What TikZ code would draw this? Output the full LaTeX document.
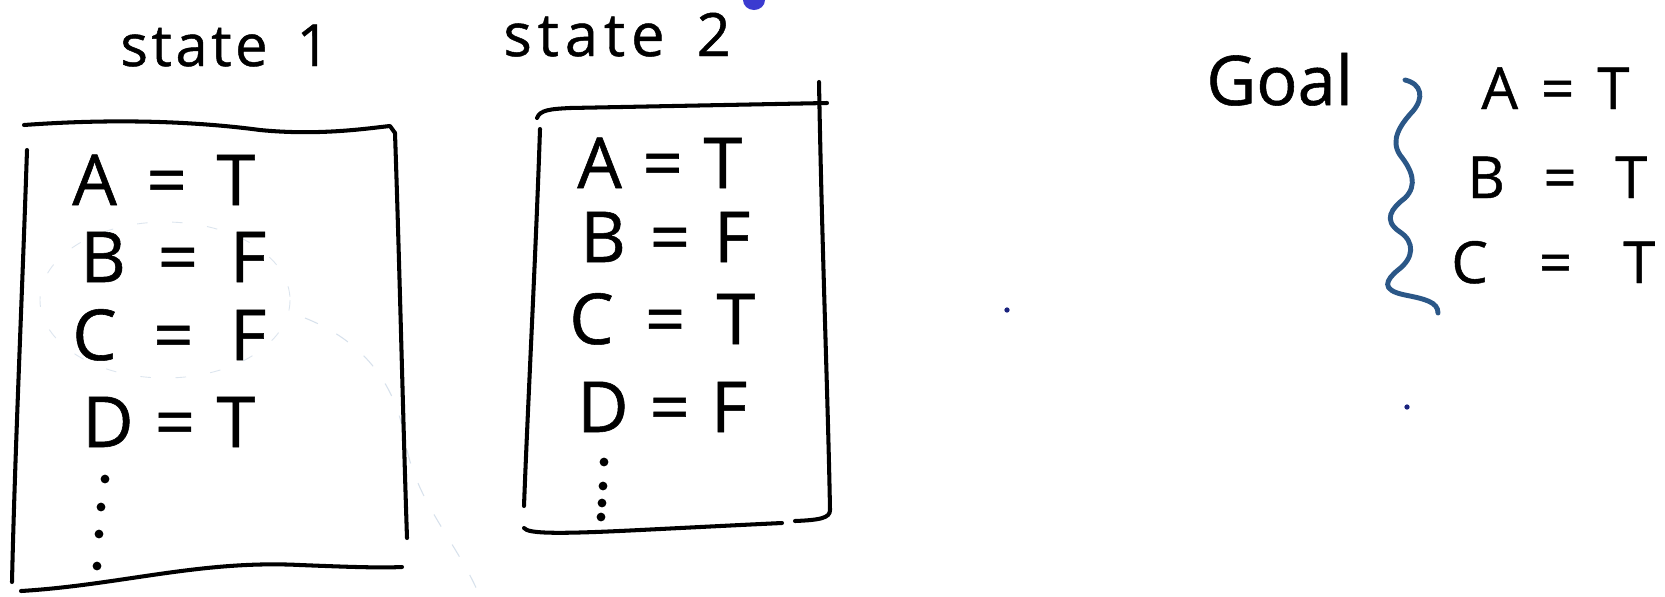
\documentclass[tikz,border=0pt]{standalone}
\usepackage{fontspec}
\setmainfont{Open Sans}[FakeBold=0.8]
\newfontfamily\titlefont{Open Sans}[FakeBold=0.8, LetterSpace=6]
\newfontfamily\titlefontwide{Open Sans}[FakeBold=0.8, LetterSpace=10]
\definecolor{bracecol}{HTML}{2B5787}
\definecolor{blobcol}{HTML}{3B3BD0}
\definecolor{dotcol}{HTML}{1A237E}
\definecolor{ghost}{HTML}{9DB6D0}
\newcommand{\rowtext}[2]{\makebox[#1][s]{#2}}
\begin{document}
\begin{tikzpicture}[x=0.02cm,y=-0.02cm,
  boxline/.style={line width=2.3pt, line cap=round, line join=round},
  bigrow/.style={anchor=base west, inner sep=0pt, font=\fontsize{40}{48}\selectfont},
  goalrow/.style={anchor=base west, inner sep=0pt, font=\fontsize{33}{40}\selectfont},
  title/.style={anchor=base west, inner sep=0pt, font=\titlefont\fontsize{33}{40}\selectfont},
  titlewide/.style={anchor=base west, inner sep=0pt, font=\titlefontwide\fontsize{34}{40}\selectfont},
  vdot/.style={circle, fill=black, inner sep=0pt, minimum size=5pt},
  specks/.style={circle, fill=dotcol, inner sep=0pt, minimum size=3pt}]
\useasboundingbox (0,0) rectangle (1665,596);
\fill[white] (0,0) rectangle (1665,596);

% ghost marks
\draw[ghost, opacity=0.35, line width=0.5pt, dash pattern=on 6pt off 14pt] (165,300) ellipse [x radius=125, y radius=78];
\draw[ghost, opacity=0.4, line width=0.6pt, dash pattern=on 8pt off 12pt] (305,318) .. controls (360,340) and (395,380) .. (405,440) .. controls (415,500) and (455,540) .. (478,592);

% titles
\node[title] (s1) at (120,66) {state\hspace{0.5em}1};
\node[titlewide] (s2) at (503,56) {\rowtext{4.55cm}{state\hfill 2}};
\fill[blobcol] (754,0) ellipse [x radius=11, y radius=10];

% box 1
\coordinate (b1tl) at (24,125);
\coordinate (b1tr) at (395,133);
\coordinate (b1bl) at (21,591);
\coordinate (b1br) at (402,567);
\draw[boxline] (b1tl) .. controls (120,118) and (200,122) .. (260,130) .. controls (320,136) and (370,128) .. (390,126) -- (b1tr);
\draw[boxline] (27,150) .. controls (22,300) and (15,450) .. (12,582);
\draw[boxline] (b1tr) .. controls (400,280) and (403,420) .. (407,538);
\draw[boxline] (b1bl) .. controls (120,585) and (200,560) .. (300,565) .. controls (350,567) and (380,568) .. (b1br);

\node[bigrow] (a1) at (72,205) {\rowtext{3.66cm}{A\hfill=\hfill T}};
\node[bigrow] (bb1) at (80,282) {\rowtext{3.72cm}{B\hfill=\hfill F}};
\node[bigrow] (c1) at (72,360) {\rowtext{3.88cm}{C\hfill=\hfill F}};
\node[bigrow] (d1) at (82,447) {\rowtext{3.46cm}{D\hfill=\hfill T}};
\node[vdot] (p11) at (105,479) {};
\node[vdot] (p12) at (101,507) {};
\node[vdot] (p13) at (99,534) {};
\node[vdot] (p14) at (97,566) {};

% box 2
\coordinate (b2tl) at (537,118);
\coordinate (b2tr) at (827,103);
\draw[boxline] (b2tl) .. controls (540,110) and (550,109) .. (570,108) -- (b2tr);
\draw[boxline] (540,129) .. controls (536,250) and (528,400) .. (524,506);
\draw[boxline] (819,82) .. controls (822,250) and (828,400) .. (830,510) .. controls (830,518) and (820,520) .. (795,521);
\draw[boxline] (524,528) .. controls (528,534) and (560,534) .. (640,530) .. controls (700,527) and (760,524) .. (782,523);

\node[bigrow] (a2) at (577,188) {\rowtext{3.3cm}{A\hfill=\hfill T}};
\node[bigrow] (bb2) at (580,262) {\rowtext{3.4cm}{B\hfill=\hfill F}};
\node[bigrow] (c2) at (569,344) {\rowtext{3.72cm}{C\hfill=\hfill T}};
\node[bigrow] (d2) at (577,432) {\rowtext{3.4cm}{D\hfill=\hfill F}};
\node[vdot] (p21) at (604,462) {};
\node[vdot] (p22) at (603,486) {};
\node[vdot] (p23) at (602,503) {};
\node[vdot] (p24) at (601,517) {};

% goal
\node[anchor=base west, inner sep=0pt, font=\fontsize{39}{46}\selectfont] (goal) at (1206,105) {Goal};
\draw[bracecol, line width=2.8pt, line cap=round] (1405,80) .. controls (1422,84) and (1424,98) .. (1413,111)
  .. controls (1400,125) and (1390,140) .. (1400,155) .. controls (1412,170) and (1418,185) .. (1405,198)
  .. controls (1392,208) and (1382,220) .. (1400,232) .. controls (1415,242) and (1414,258) .. (1398,270)
  .. controls (1386,280) and (1380,290) .. (1405,295) .. controls (1425,299) and (1438,302) .. (1438,313);
\node[goalrow] (ga) at (1481,109) {\rowtext{2.96cm}{A\hfill=\hfill T}};
\node[goalrow] (gb) at (1467,198) {\rowtext{3.6cm}{B\hfill=\hfill T}};
\node[goalrow] (gc) at (1451,283) {\rowtext{4.08cm}{C\hfill=\hfill T}};

% specks
\node[specks] (sp1) at (1007,310) {};
\node[specks] (sp2) at (1407,407) {};
\end{tikzpicture}
\end{document}
